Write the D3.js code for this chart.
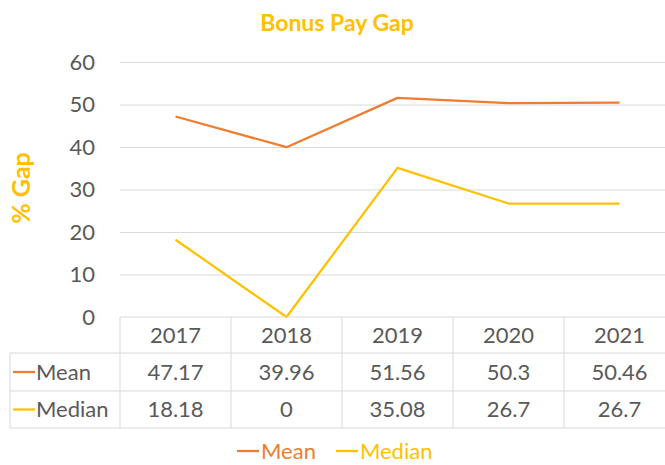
<!DOCTYPE html>
<html>
<head>
<meta charset="utf-8">
<script src="https://cdn.jsdelivr.net/npm/d3@7"></script>
<style>
  body { margin: 0; background: #fff; }
  svg { display: block; font-family: Lato, "Open Sans", sans-serif; }
</style>
</head>
<body>
<svg id="chart" width="665" height="465"></svg>
<script>
const years = ['2017', '2018', '2019', '2020', '2021'];
const meanValues = [47.17, 39.96, 51.56, 50.3, 50.46];
const medianValues = [18.18, 0, 35.08, 26.7, 26.7];
const yTicks = [0, 10, 20, 30, 40, 50, 60];

const series = [
  { name: 'Mean', values: meanValues, color: '#ED7D31' },
  { name: 'Median', values: medianValues, color: '#FFC000' }
];

const plot = { left: 120, right: 675, top: 62, bottom: 317 };
const rowH = [36, 38, 37];
const labelLeft = 10;
const fontSize = 22;
const textColor = '#595959';
const gridColor = '#D9D9D9';

const svg = d3.select('#chart');

const x = d3.scaleBand().domain(years).range([plot.left, plot.right]);
const y = d3.scaleLinear().domain([0, 60]).range([plot.bottom, plot.top]);

// title
svg.append('text')
  .attr('x', 337).attr('y', 31)
  .attr('text-anchor', 'middle')
  .attr('font-size', 23).attr('font-weight', 'bold')
  .attr('fill', '#FFC000')
  .text('Bonus Pay Gap');

// y label
svg.append('text')
  .attr('transform', 'translate(30,188) rotate(-90)')
  .attr('text-anchor', 'middle')
  .attr('font-size', 25).attr('font-weight', 'bold')
  .attr('fill', '#FFC000')
  .text('% Gap');

// y axis + grid
const yAxis = d3.axisLeft(y)
  .tickValues(yTicks)
  .tickSize(-(plot.right - plot.left))
  .tickPadding(25);

const gy = svg.append('g')
  .attr('transform', `translate(${plot.left},0)`)
  .call(yAxis);
gy.select('.domain').remove();
gy.selectAll('.tick line').attr('stroke', gridColor).attr('stroke-width', 1);
gy.selectAll('.tick text')
  .attr('fill', textColor)
  .attr('font-size', fontSize)
  .attr('font-family', 'Lato, sans-serif');
gy.selectAll('.tick').filter(d => d === 0).select('line').remove();

// lines
const line = d3.line()
  .x((d, i) => x(years[i]) + x.bandwidth() / 2)
  .y(d => y(d));

svg.selectAll('path.series')
  .data(series)
  .enter().append('path')
  .attr('class', 'series')
  .attr('fill', 'none')
  .attr('stroke', d => d.color)
  .attr('stroke-width', 2.25)
  .attr('stroke-linejoin', 'round')
  .attr('d', d => line(d.values));

// data table
const table = svg.append('g').attr('class', 'table');
const rowTops = [plot.bottom, plot.bottom + rowH[0], plot.bottom + rowH[0] + rowH[1]];
const tableBottom = rowTops[2] + rowH[2];

table.append('line')
  .attr('x1', plot.left).attr('x2', plot.right)
  .attr('y1', plot.bottom).attr('y2', plot.bottom);
[rowTops[1], rowTops[2], tableBottom].forEach(yy => {
  table.append('line')
    .attr('x1', labelLeft).attr('x2', plot.right)
    .attr('y1', yy).attr('y2', yy);
});
years.forEach(yr => {
  table.append('line')
    .attr('x1', x(yr)).attr('x2', x(yr))
    .attr('y1', plot.bottom).attr('y2', tableBottom);
});
table.append('line')
  .attr('x1', labelLeft).attr('x2', labelLeft)
  .attr('y1', rowTops[1]).attr('y2', tableBottom);
table.selectAll('line').attr('stroke', gridColor).attr('stroke-width', 1);

// header row
table.selectAll('text.year')
  .data(years)
  .enter().append('text')
  .attr('class', 'year')
  .attr('x', d => x(d) + x.bandwidth() / 2)
  .attr('y', rowTops[0] + rowH[0] / 2)
  .attr('dy', '0.35em')
  .attr('text-anchor', 'middle')
  .attr('font-size', fontSize)
  .attr('fill', textColor)
  .text(d => d);

// series rows
series.forEach((s, r) => {
  const cy = rowTops[r + 1] + rowH[r + 1] / 2;
  table.append('line')
    .attr('x1', labelLeft + 3).attr('x2', labelLeft + 25)
    .attr('y1', cy).attr('y2', cy)
    .attr('stroke', s.color).attr('stroke-width', 2.25);
  table.append('text')
    .attr('x', labelLeft + 26).attr('y', cy).attr('dy', '0.35em')
    .attr('font-size', fontSize).attr('fill', textColor)
    .text(s.name);
  table.selectAll(null)
    .data(s.values)
    .enter().append('text')
    .attr('x', (d, i) => x(years[i]) + x.bandwidth() / 2)
    .attr('y', cy).attr('dy', '0.35em')
    .attr('text-anchor', 'middle')
    .attr('font-size', fontSize).attr('fill', textColor)
    .text(d => d);
});

// legend
const legend = svg.append('g').attr('transform', 'translate(237,451)');
let lx = 0;
series.forEach(s => {
  const item = legend.append('g').attr('transform', `translate(${lx},0)`);
  item.append('line')
    .attr('x1', 0).attr('x2', 22).attr('y1', 0).attr('y2', 0)
    .attr('stroke', s.color).attr('stroke-width', 2.25);
  const t = item.append('text')
    .attr('x', 24).attr('dy', '0.35em')
    .attr('font-size', fontSize).attr('fill', s.color)
    .text(s.name);
  lx += 24 + t.node().getComputedTextLength() + 20;
});
</script>
</body>
</html>
